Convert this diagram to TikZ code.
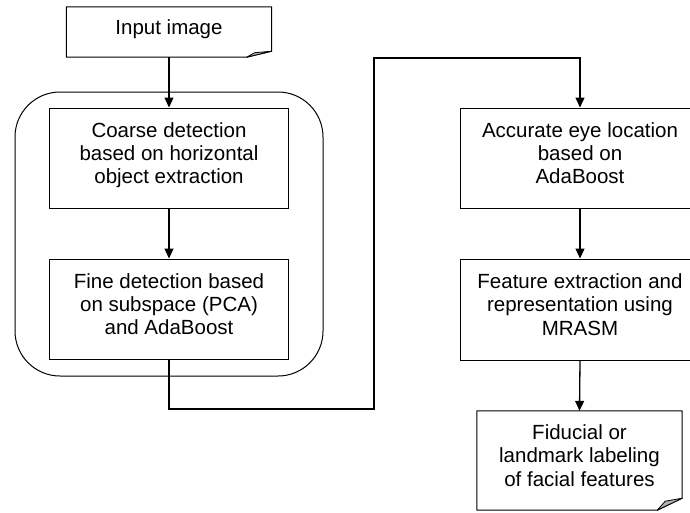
\documentclass[tikz,border=0pt]{standalone}
\usepackage{fontspec}
\setmainfont{Liberation Sans}
\usetikzlibrary{arrows.meta}

\tikzset{
  every node/.style={font=\fontsize{20.5}{23.3}\selectfont, align=center, inner sep=0pt, text depth=10pt},
  stagebox/.style={draw, line width=1pt, minimum width=239pt, minimum height=100pt},
  docbox/.style={minimum width=205pt},
  groupbox/.style={draw, line width=1pt, rounded corners=45pt},
  link/.style={line width=1.3pt},
  flow/.style={link, -{Triangle[length=10pt,width=9pt]}},
  flap/.style={line width=0.8pt, fill=black!30, line join=round},
}

\begin{document}
\begin{tikzpicture}[x=1pt, y=-1pt]
  \useasboundingbox (0,0) rectangle (690,512);
  \clip (0,0) rectangle (690,512);

  % container round the two detection stages
  \node (grp) [groupbox, minimum width=308pt, minimum height=284pt] at (169,234) {};

  % left column
  \node (in) [docbox, minimum height=50pt] at (169,32) {Input image};
  \node (coarse) [stagebox] at (169,158) {Coarse detection\\based on horizontal\\object extraction};
  \node (fine) [stagebox] at (169,309) {Fine detection based\\on subspace (PCA)\\and AdaBoost};

  % right column
  \node (eye) [stagebox, minimum width=240pt] at (580,158) {Accurate eye location\\based on\\AdaBoost};
  \node (feat) [stagebox, minimum width=240pt, minimum height=101pt] at (580,309.5) {Feature extraction and\\representation using\\MRASM};
  \node (fid) [docbox, minimum height=99pt] at (579.5,460.5) {Fiducial or\\landmark labeling\\of facial features};

  % document outlines with a curled lower right corner
  \draw[line width=1pt, line join=round] (in.north west) -- (in.north east)
    -- ([yshift=6pt]in.south east) -- ([xshift=-25pt]in.south east)
    -- (in.south west) -- cycle;
  \filldraw[flap] ([xshift=-25pt]in.south east) -- ([yshift=6pt]in.south east)
    -- ([xshift=-17pt,yshift=4.5pt]in.south east) -- cycle;

  \draw[line width=1pt, line join=round] (fid.north west) -- (fid.north east)
    -- ([yshift=12pt]fid.south east) -- ([xshift=-25pt]fid.south east)
    -- (fid.south west) -- cycle;
  \filldraw[flap] ([xshift=-25pt]fid.south east) -- ([yshift=12pt]fid.south east)
    -- ([xshift=-17pt,yshift=9pt]fid.south east) -- cycle;

  % connectors
  \coordinate (lo) at (374,409);
  \coordinate (hi) at (374,58);
  \draw[flow] (in.south) -- (coarse.north);
  \draw[flow] (coarse.south) -- (fine.north);
  \draw[flow] (fine.south) |- (lo) -- (hi) -| (eye.north);
  \draw[flow] (eye.south) -- (feat.north);
  \draw[flow] (feat.south) -- (fid.north);
\end{tikzpicture}
\end{document}
